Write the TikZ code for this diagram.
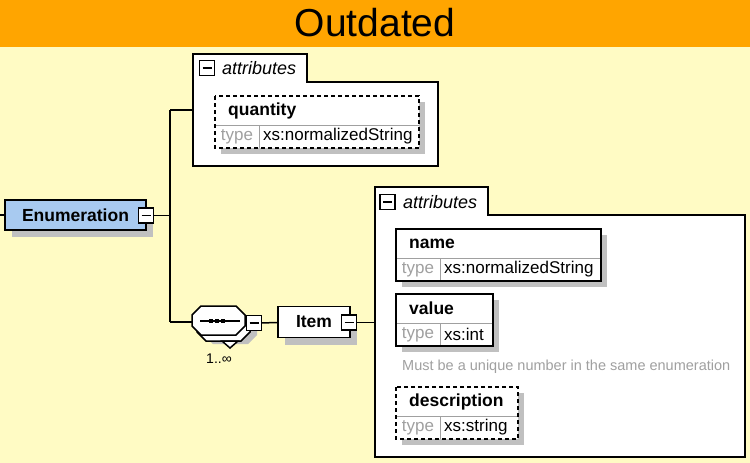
\documentclass[tikz,border=0pt]{standalone}
\usepackage{fontspec}
\setmainfont{Liberation Sans}
\usetikzlibrary{shadows}

\definecolor{bannerorange}{HTML}{FFA500}
\definecolor{paleyellow}{HTML}{FFFBC4}
\definecolor{elemblue}{HTML}{A8CAF0}
\definecolor{shadowgray}{HTML}{C0C0C0}
\definecolor{hintgray}{HTML}{A0A0A0}

\tikzset{
  wire/.style={line width=1.5pt},
  elem/.style={draw, line width=1.5pt, fill=#1, inner sep=0pt,
    font=\fontsize{17.5}{20}\selectfont\bfseries,
    drop shadow={shadow xshift=7pt, shadow yshift=-7pt, fill=shadowgray, opacity=1}},
  elem/.default=white,
  minusbox/.style={draw, line width=1.2pt, fill=white, minimum size=15pt, inner sep=0pt,
    path picture={\draw[line width=1.2pt] ([xshift=3pt]path picture bounding box.west)
      -- ([xshift=-3pt]path picture bounding box.east);}},
  panel/.style={draw, line width=1.5pt, fill=white},
  panellabel/.style={anchor=west, inner sep=0pt, font=\fontsize{18}{20}\selectfont\itshape},
  attrlabel/.style={anchor=west, inner sep=0pt, font=\fontsize{17.5}{20}\selectfont\bfseries},
  typelabel/.style={inner sep=0pt, text=hintgray, font=\fontsize{17}{20}\selectfont},
  typename/.style={anchor=west, inner sep=0pt, font=\fontsize{17}{20}\selectfont},
  rowline/.style={draw=hintgray, line width=0.8pt},
  optional/.style={dash pattern=on 4pt off 3pt}
}

% attribute box: name, left, top, right, label, type, border style
\newcommand{\attrbox}[7]{%
  \fill[shadowgray] (#2+6,#3+6) rectangle (#4+6,#3+58);
  \fill[white] (#2,#3) rectangle (#4,#3+52);
  \draw[rowline] (#2,#3+29) -- (#4,#3+29);
  \draw[rowline] (#2+44,#3+29) -- (#2+44,#3+52);
  \draw[line width=1.5pt, #7] (#2,#3) rectangle (#4,#3+52);
  \node[attrlabel] (#1) at (#2+13,#3+14.5) {#5};
  \node[typelabel] (#1-t) at (#2+22,#3+40.5) {type};
  \node[typename] (#1-v) at (#2+48,#3+40.5) {#6};
}

% compositor outline: x and y offset from the sequence node
\newcommand{\octa}[3]{%
  \path[#3, shift={(#1,#2)}] (201,306) -- (236,306) -- (245,315) -- (245,326)
    -- (236,335) -- (201,335) -- (192,326) -- (192,315) -- cycle;
}

\begin{document}
\begin{tikzpicture}[x=1pt, y=-1pt]
    \useasboundingbox (0,0) rectangle (750,463);

    % Background and banner
    \fill[paleyellow] (0,0) rectangle (750,463);
    \fill[bannerorange] (0,0) rectangle (750,47);
    \node[font=\fontsize{39}{42}\selectfont] (title) at (375,23) {Outdated};

    % Root element
    \coordinate (root) at (0,215);
    \node[elem=elemblue, minimum width=141pt, minimum height=30pt] (enum) at (75.5,215) {Enumeration};
    \node[minusbox] (enum-m) at (146,215.5) {};
    \draw[wire] (root) -- (enum);

    % Fork
    \coordinate (fork) at (170,215.5);
    \coordinate (fork-top) at (170,110);
    \coordinate (fork-bot) at (170,322);
    \draw[wire] (enum-m) -- (fork);
    \draw[wire] (fork-top) -- (fork-bot);

    % Top attributes panel
    \draw[panel] (193,54) -- (307,54) -- (307,82) -- (438,82) -- (438,166) -- (193,166) -- cycle;
    \coordinate (panA) at (193,110);
    \node[minusbox] (panA-m) at (207,68) {};
    \node[panellabel] (panA-l) at (222,68) {attributes};
    \draw[wire] (fork-top) -- (panA);
    \attrbox{qty}{215}{96}{419}{quantity}{xs:normalizedString}{optional}

    % Sequence compositor (1..unbounded)
    \octa{12}{9}{fill=shadowgray}
    \octa{5}{6}{draw, line width=1.5pt, fill=white}
    \draw[wire, fill=white] (222,341) -- (238,341) -- (230,348) -- cycle;
    \octa{0}{0}{draw, line width=1.5pt, fill=white}
    \coordinate (seq) at (192,322);
    \draw[line width=1.2pt] (200,321) -- (240,321);
    \foreach \i in {211, 217, 223} {
        \fill (\i-2,319) rectangle (\i+2,323);
    }
    \node[minusbox] (seq-m) at (254,323) {};
    \node[inner sep=0pt, font=\fontsize{14}{16}\selectfont] (seq-occ) at (219,359) {1..∞};
    \draw[wire] (fork-bot) -- (seq);

    % Item element
    \node[elem, minimum width=72pt, minimum height=31pt] (item) at (314,322) {Item};
    \node[minusbox] (item-m) at (349,322.5) {};
    \draw[wire] (seq-m) -- (item);

    % Item attributes panel
    \draw[panel] (375,187) -- (488,187) -- (488,215) -- (745,215) -- (745,457) -- (375,457) -- cycle;
    \coordinate (panB) at (375,322.5);
    \node[minusbox] (panB-m) at (387.5,202) {};
    \node[panellabel] (panB-l) at (403,202) {attributes};
    \draw[wire] (item-m) -- (panB);
    \attrbox{name}{396}{229}{601}{name}{xs:normalizedString}{solid}
    \attrbox{value}{396}{294}{493}{value}{xs:int}{solid}
    \node[anchor=west, inner sep=0pt, text=hintgray, font=\fontsize{14.5}{16}\selectfont] (value-doc) at (402,367) {Must be a unique number in the same enumeration};
    \attrbox{desc}{396}{387}{518}{description}{xs:string}{optional}
\end{tikzpicture}
\end{document}
